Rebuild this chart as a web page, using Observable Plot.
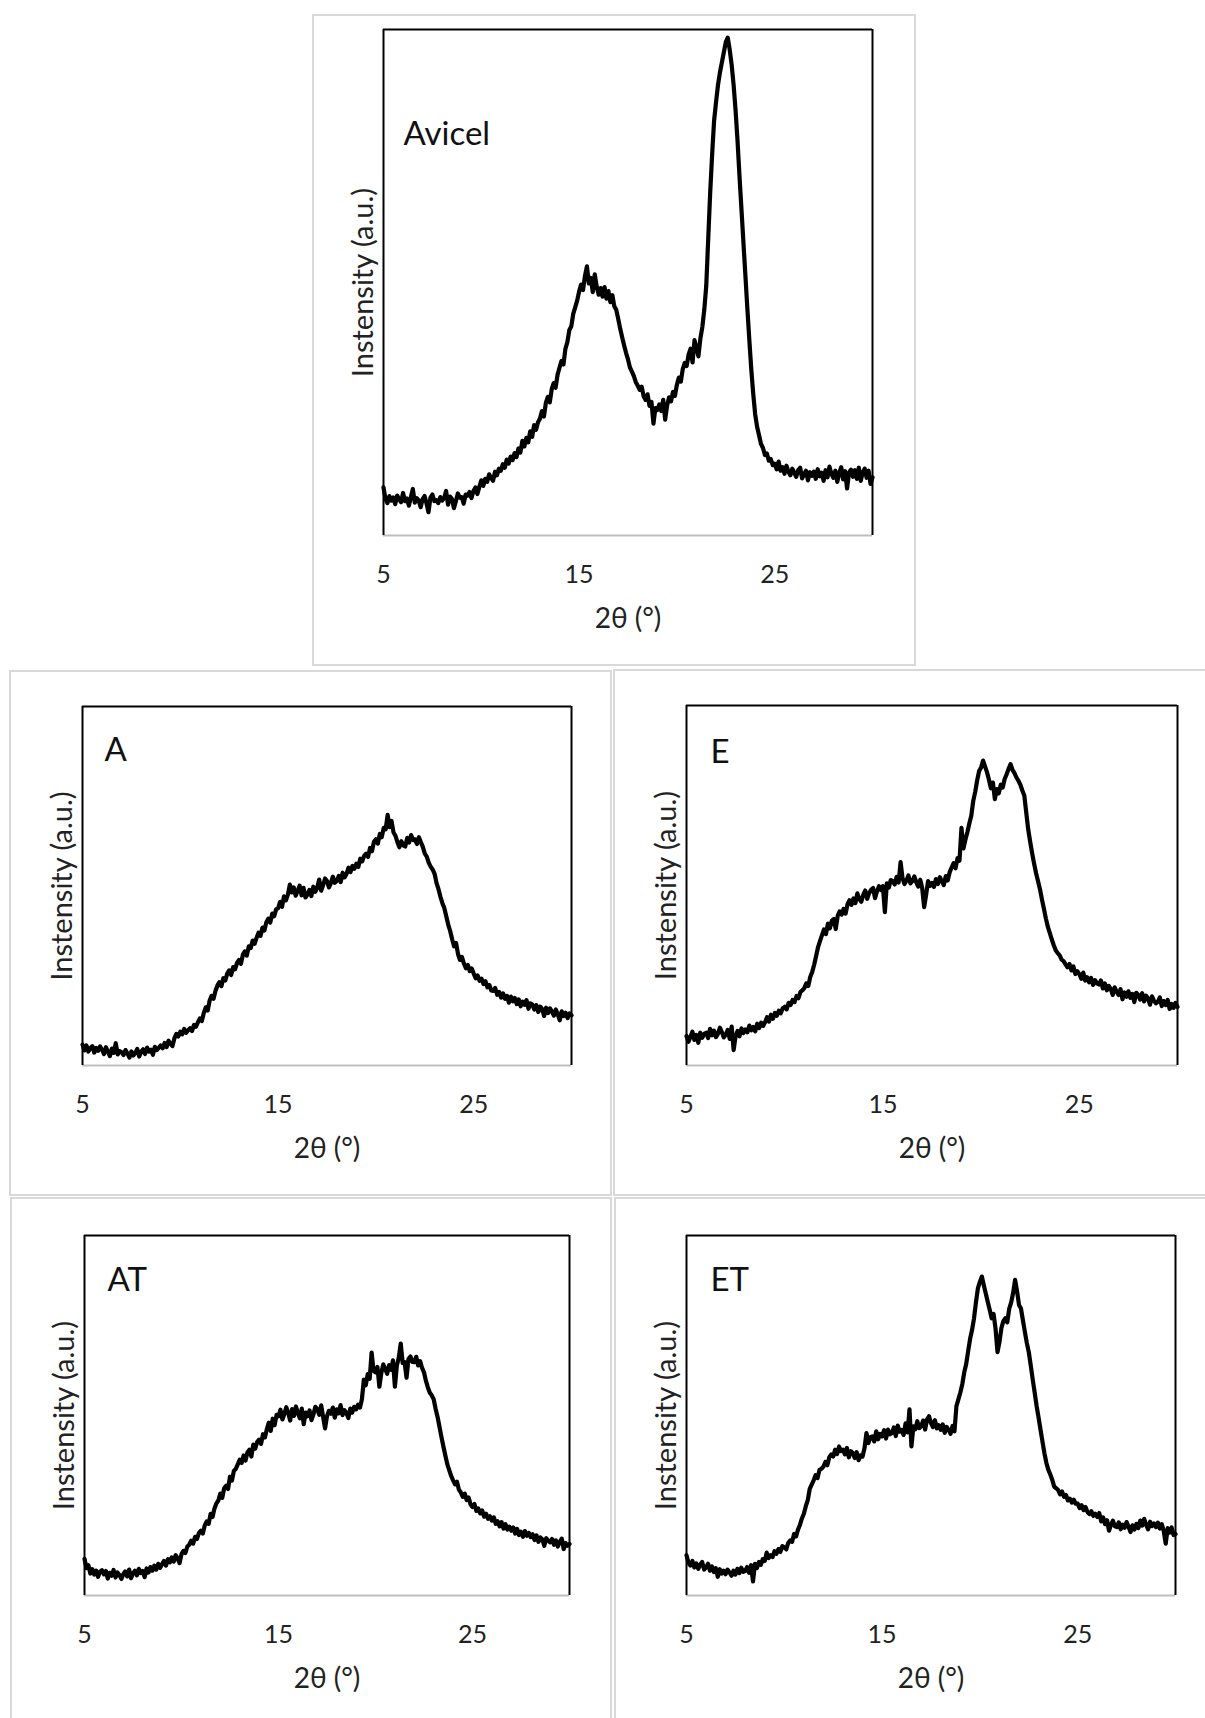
<!DOCTYPE html>
<html>
<head>
<meta charset="utf-8">
<script src="https://cdn.jsdelivr.net/npm/d3@7"></script>
<script src="https://cdn.jsdelivr.net/npm/@observablehq/plot@0.6"></script>
<style>
html, body { margin: 0; padding: 0; background: #fff; }
#root { position: relative; width: 1205px; height: 1718px; overflow: hidden; background: #fff; font-family: Lato, sans-serif; }
.box { position: absolute; box-sizing: border-box; border: 2px solid #d9d9d9; pointer-events: none; }
.panel { position: absolute; }
</style>
</head>
<body>
<div id="root"></div>
<script>
// ---- data (intensity as % of plot height, sampled every 0.1° of 2θ from 5° to 30°) ----
const xTicks = [5, 15, 25];
const xTitle = "2θ (°)";
const yTitle = "Instensity (a.u.)";
const panelNames = ["Avicel", "A", "E", "AT", "ET"];

const avicel = [
  9.5, 7.2, 6.4, 7.8, 6.9, 7.5, 6.2, 7.9, 7.1, 6.6,
  8.4, 6.8, 7.3, 5.9, 7.6, 9.2, 6.5, 7.4, 6.9, 5.6,
  7.2, 7.8, 6.3, 4.6, 7.5, 8.1, 6.8, 7.0, 6.4, 7.6,
  6.9, 7.4, 8.8, 6.1, 7.7, 7.2, 5.4, 6.8, 8.3, 7.5,
  7.6, 6.3, 8.1, 7.9, 8.6, 7.4, 8.8, 9.5, 8.2, 9.6,
  10.9, 9.8, 11.2, 10.6, 12.1, 11.4, 10.8, 12.6, 11.9, 13.2,
  12.8, 14.1, 13.4, 15.0, 14.2, 15.6, 14.9, 16.3, 15.5, 17.2,
  16.4, 18.7, 17.6, 19.3, 18.4, 20.6, 19.5, 21.8, 20.9, 22.4,
  23.1, 24.6, 23.5, 26.2, 27.4, 26.3, 28.9, 30.1, 29.2, 31.8,
  33.2, 34.5, 33.8, 36.9, 38.2, 40.6, 41.3, 43.8, 45.1, 46.4,
  48.2, 49.6, 48.5, 51.3, 53.2, 49.8, 50.9, 48.1, 51.6, 49.2,
  47.6, 48.9, 47.2, 49.1, 46.8, 48.3, 46.1, 47.5, 45.3, 44.6,
  42.8, 40.9, 39.2, 37.6, 36.1, 34.8, 33.2, 32.4, 31.5, 30.3,
  29.6, 28.8, 29.4, 27.5, 26.8, 27.9, 25.6, 26.4, 22.1, 25.2,
  24.8, 25.9, 24.6, 26.8, 22.9, 25.7, 27.3, 26.5, 28.4, 27.6,
  29.8, 31.2, 30.4, 32.9, 34.1, 33.5, 35.8, 36.9, 34.2, 38.6,
  37.1, 35.4, 38.9, 41.2, 44.6, 49.3, 58.5, 67.6, 75.2, 81.9,
  85.6, 89.0, 91.5, 93.5, 95.5, 97.5, 98.4, 96.0, 93.0, 89.0,
  84.0, 78.0, 71.0, 64.5, 58.0, 51.5, 45.0, 38.8, 33.0, 28.1,
  24.0, 21.5, 19.8, 18.1, 17.3, 15.9, 16.2, 14.8, 15.1, 13.9,
  14.2, 13.1, 14.6, 12.8, 13.5, 12.2, 13.8, 12.6, 11.9, 13.2,
  12.4, 11.6, 12.9, 13.4, 11.3, 12.1, 12.8, 10.9, 12.5, 11.8,
  12.6, 11.2, 13.1, 11.7, 12.4, 10.8, 12.9, 11.5, 13.6, 12.2,
  11.4, 12.8, 10.6, 12.3, 13.5, 11.1, 12.7, 9.3, 12.4, 13.0,
  11.6, 12.9, 11.2, 13.4, 10.8, 12.5, 13.2, 11.4, 12.8, 10.2,
  11.5
];

const sampleA = [
  5.8, 4.2, 5.6, 3.9, 4.8, 5.4, 3.6, 4.9, 4.1, 5.3,
  4.4, 3.2, 5.1, 3.8, 2.6, 4.7, 3.5, 6.2, 3.1, 4.0,
  3.7, 2.9, 4.3, 3.4, 2.2, 3.9, 2.8, 3.5, 4.6, 2.5,
  3.8, 4.5, 3.2, 5.0, 3.9, 4.4, 3.0, 5.2, 4.3, 4.9,
  5.6, 4.8, 6.3, 5.1, 6.9, 6.0, 5.4, 7.6, 8.8, 8.1,
  9.4, 8.7, 10.2, 9.1, 9.8, 10.4, 9.6, 11.3, 10.8, 12.0,
  13.1, 12.4, 14.6, 16.2, 15.3, 18.1, 19.4, 18.6, 20.8, 22.3,
  23.2, 22.1, 24.3, 23.7, 25.6, 26.5, 25.2, 27.4, 26.8, 28.6,
  29.4, 28.3, 30.9, 31.8, 30.6, 33.2, 32.7, 34.8, 33.9, 35.6,
  37.0, 36.1, 38.4, 37.6, 39.9, 40.9, 39.8, 42.3, 41.6, 43.5,
  43.8, 45.6, 44.2, 47.1, 46.0, 47.6, 50.4, 48.2, 49.6, 47.3,
  48.6, 50.1, 47.4, 49.5, 46.8, 47.6, 48.9, 47.2, 49.8, 48.4,
  49.5, 51.8, 48.7, 50.2, 52.1, 51.4, 49.6, 50.8, 52.6, 50.9,
  51.4, 52.8, 51.1, 53.7, 52.4, 53.4, 55.1, 53.9, 55.6, 54.8,
  56.2, 55.3, 57.6, 56.9, 58.4, 59.0, 58.1, 60.6, 59.7, 62.3,
  63.0, 61.8, 64.5, 63.6, 66.2, 65.8, 69.8, 66.4, 68.1, 64.9,
  64.0, 62.2, 60.8, 62.5, 61.3, 61.0, 63.4, 62.1, 64.2, 62.8,
  63.0, 61.7, 63.6, 62.2, 60.9, 59.0, 58.2, 56.5, 55.4, 54.6,
  53.4, 50.8, 49.1, 47.0, 45.2, 43.8, 41.5, 39.2, 37.4, 35.1,
  33.2, 34.1, 31.0, 29.4, 30.2, 28.4, 27.1, 28.0, 26.3, 27.0,
  25.6, 24.3, 25.1, 23.6, 24.2, 22.7, 23.5, 21.8, 22.4, 20.9,
  20.8, 21.6, 19.7, 20.5, 18.9, 20.1, 18.6, 19.4, 17.5, 19.2,
  17.9, 18.8, 17.1, 18.4, 16.5, 17.8, 16.9, 18.2, 15.8, 17.3,
  17.0, 15.6, 16.8, 14.9, 16.4, 15.7, 13.8, 16.1, 14.6, 15.9,
  15.0, 13.9, 15.6, 14.2, 12.6, 15.1, 13.8, 14.7, 13.2, 14.5,
  14.0
];

const sampleE = [
  8.2, 6.6, 7.9, 9.4, 7.1, 8.5, 6.3, 9.1, 7.7, 8.8,
  9.1, 7.6, 10.2, 8.4, 9.7, 7.9, 8.8, 10.5, 9.3, 7.8,
  8.6, 9.9, 7.4, 10.8, 4.3, 8.2, 9.6, 8.1, 10.3, 9.0,
  10.0, 9.2, 11.1, 9.8, 10.7, 9.5, 11.6, 10.4, 11.9, 11.0,
  12.0, 13.4, 12.2, 14.1, 13.0, 14.6, 13.8, 15.2, 14.5, 15.9,
  16.3, 15.6, 17.4, 16.8, 18.2, 17.6, 19.3, 18.7, 20.4, 20.9,
  21.5, 22.8, 22.1, 24.6, 26.0, 28.0, 30.4, 32.9, 34.6, 36.2,
  37.8, 36.5, 39.4, 38.1, 40.2, 40.7, 37.9, 41.6, 42.8, 41.9,
  43.5, 42.2, 44.8, 45.9, 44.6, 46.4, 45.1, 47.8, 46.2, 45.5,
  47.4, 48.6, 46.3, 47.9, 48.8, 49.3, 46.5, 48.4, 49.8, 48.7,
  49.8, 42.6, 50.6, 49.4, 51.5, 51.2, 50.3, 52.4, 50.8, 56.5,
  52.0, 50.4, 51.4, 52.8, 50.6, 51.2, 52.5, 50.9, 49.7, 51.6,
  49.3, 44.0, 47.4, 51.2, 49.9, 50.7, 49.6, 51.8, 50.4, 52.3,
  51.2, 50.1, 52.6, 51.4, 53.7, 55.0, 56.2, 54.8, 57.6, 56.9,
  66.0, 60.3, 62.7, 64.8, 67.2, 69.4, 73.5, 76.0, 79.2, 81.8,
  82.8, 84.7, 83.1, 81.5, 79.4, 77.0, 78.6, 74.0, 76.8, 75.6,
  78.0, 77.2, 79.6, 80.9, 82.4, 83.7, 82.1, 81.2, 80.0, 79.1,
  78.0, 76.4, 75.0, 70.2, 65.5, 62.1, 58.9, 56.0, 53.4, 51.2,
  48.9, 46.1, 43.5, 40.8, 38.5, 36.8, 35.0, 33.4, 32.0, 31.2,
  30.6, 29.4, 29.0, 28.1, 27.3, 28.2, 26.4, 27.5, 25.4, 26.2,
  25.4, 24.1, 25.8, 23.6, 24.5, 23.1, 24.3, 22.4, 23.7, 22.8,
  22.5, 23.6, 21.4, 22.8, 20.9, 22.1, 21.3, 19.6, 21.7, 20.5,
  19.6, 21.2, 18.4, 20.3, 19.1, 20.6, 18.8, 19.9, 17.6, 20.2,
  19.6, 18.3, 20.1, 17.8, 19.4, 18.6, 16.9, 19.2, 18.0, 17.3,
  17.7, 18.9, 16.5, 17.9, 16.8, 18.2, 15.7, 17.1, 16.0, 17.4,
  16.3
];

const sampleAT = [
  10.2, 7.6, 8.4, 6.1, 7.3, 5.8, 6.9, 5.2, 6.6, 7.0,
  5.9, 6.8, 4.7, 6.3, 5.5, 7.1, 5.0, 6.4, 5.7, 4.6,
  5.9, 6.7, 5.3, 7.2, 4.8, 6.1, 6.9, 5.6, 7.4, 6.2,
  6.8, 5.1, 7.5, 6.4, 7.9, 6.9, 8.3, 7.2, 8.8, 7.7,
  8.7, 9.6, 8.3, 10.1, 9.2, 10.6, 9.4, 11.2, 10.3, 9.0,
  11.5, 12.4, 11.8, 13.6, 14.1, 15.2, 14.4, 16.3, 15.7, 17.4,
  18.0, 17.2, 19.5, 20.6, 19.9, 22.7, 21.8, 24.2, 25.6, 26.4,
  28.3, 27.1, 29.8, 30.5, 29.6, 33.0, 31.9, 34.6, 35.2, 36.4,
  37.7, 36.8, 38.9, 37.5, 39.8, 40.5, 38.6, 41.9, 40.8, 42.6,
  43.3, 42.1, 44.8, 43.9, 46.2, 48.0, 45.7, 49.1, 47.3, 50.2,
  49.8, 51.6, 48.9, 50.4, 52.3, 50.7, 48.6, 51.8, 49.9, 52.5,
  50.7, 49.2, 51.9, 47.6, 50.8, 49.8, 51.4, 48.7, 50.3, 52.4,
  51.7, 50.2, 52.8, 49.6, 46.4, 49.8, 51.3, 50.5, 52.2, 49.4,
  51.7, 50.6, 52.9, 50.1, 51.5, 50.7, 49.3, 51.9, 50.8, 52.4,
  51.7, 53.0, 52.2, 54.5, 60.0, 58.4, 61.5, 60.2, 67.5, 62.4,
  62.0, 63.5, 58.0, 61.8, 64.2, 62.9, 61.6, 64.0, 62.7, 65.3,
  58.0, 63.8, 66.1, 70.0, 64.6, 64.8, 60.5, 65.7, 66.4, 64.9,
  64.8, 66.3, 63.9, 65.1, 63.2, 62.0, 59.6, 57.8, 56.3, 55.6,
  54.5, 51.8, 49.6, 46.8, 44.0, 41.4, 38.9, 36.5, 34.8, 33.2,
  32.0, 30.9, 31.6, 29.4, 28.6, 27.4, 28.3, 26.5, 27.2, 25.3,
  24.6, 25.4, 23.5, 24.2, 22.8, 23.6, 21.9, 22.7, 21.3, 22.0,
  20.8, 21.7, 19.9, 20.6, 19.2, 20.4, 18.6, 19.8, 18.3, 19.1,
  18.0, 18.9, 17.2, 18.5, 16.8, 17.7, 16.3, 17.9, 16.6, 17.4,
  16.2, 17.0, 15.4, 16.7, 14.9, 16.1, 15.6, 13.8, 15.9, 15.2,
  14.8, 15.7, 14.1, 15.3, 13.6, 14.9, 15.8, 12.9, 14.6, 13.8,
  14.3
];

const sampleET = [
  11.2, 9.1, 8.3, 9.6, 7.8, 8.9, 7.4, 8.6, 9.3, 7.2,
  7.8, 8.8, 6.9, 8.1, 6.5, 7.6, 5.2, 7.3, 6.1, 6.9,
  5.9, 7.2, 6.4, 5.5, 6.9, 5.8, 7.4, 6.2, 7.7, 6.6,
  6.8, 7.9, 6.3, 8.4, 3.9, 8.8, 7.6, 9.3, 8.5, 10.1,
  9.6, 11.9, 10.4, 11.2, 10.7, 12.3, 11.6, 12.9, 12.1, 13.7,
  13.4, 12.8, 14.6, 15.3, 14.9, 17.1, 16.4, 18.3, 19.6, 21.4,
  22.7, 24.8, 26.5, 29.6, 30.8, 32.0, 33.4, 32.6, 34.9, 35.2,
  35.8, 37.1, 36.2, 38.4, 39.2, 38.6, 40.5, 39.3, 41.4, 40.1,
  40.5, 39.2, 41.0, 38.4, 40.1, 39.6, 38.2, 39.8, 37.6, 38.9,
  38.6, 40.9, 45.1, 42.3, 44.0, 44.2, 42.8, 45.6, 43.4, 44.9,
  44.2, 45.9, 43.6, 46.1, 44.8, 45.1, 46.7, 44.3, 47.2, 45.5,
  46.0, 44.6, 47.8, 45.3, 51.7, 41.4, 47.0, 46.2, 48.4, 46.5,
  47.0, 48.6, 46.1, 48.9, 49.8, 47.9, 46.8, 48.7, 46.4, 47.3,
  46.0, 47.5, 45.2, 46.8, 46.0, 44.9, 47.1, 45.6, 52.6, 54.5,
  56.4, 58.7, 62.0, 64.3, 67.9, 71.3, 73.8, 77.0, 81.5, 85.4,
  87.1, 88.6, 86.2, 83.9, 81.6, 79.4, 77.0, 78.2, 74.1, 67.6,
  70.4, 74.3, 76.2, 77.0, 75.9, 79.7, 81.4, 84.1, 87.7, 84.5,
  80.7, 79.7, 76.4, 73.2, 70.1, 67.6, 63.9, 60.0, 56.4, 52.6,
  49.4, 46.0, 42.7, 39.5, 36.8, 34.9, 33.6, 32.1, 30.2, 29.8,
  29.3, 28.1, 28.9, 27.4, 27.9, 26.4, 26.9, 25.8, 26.6, 25.5,
  25.5, 24.3, 25.1, 23.7, 24.6, 23.2, 22.6, 23.4, 22.1, 22.7,
  21.8, 22.9, 20.6, 21.7, 19.8, 20.9, 18.0, 19.6, 20.8, 19.2,
  19.0, 20.3, 18.4, 19.7, 18.8, 20.4, 19.1, 17.6, 19.5, 18.3,
  19.9, 18.7, 20.8, 19.4, 21.3, 19.6, 18.4, 20.5, 19.3, 20.0,
  19.0, 20.2, 18.6, 19.8, 17.9, 14.4, 18.7, 17.5, 18.9, 16.8,
  17.1
];

const seriesList = [avicel, sampleA, sampleE, sampleAT, sampleET];
// sampling grid of the diffractograms: 5.0°, 5.1°, ... 30.0°
const twoTheta = d3.range(251).map(i => Math.round((5 + i * 0.1) * 10) / 10);

// ---- layout (pixel geometry of each panel) ----
const layout = [
  { box: [312, 14, 916, 666],   frame: [383, 29, 872, 535],   ldx: 20, ldy: 92 },
  { box: [9, 670, 612, 1196],   frame: [82, 706, 571, 1065],  ldx: 22, ldy: 31 },
  { box: [613, 669, 1207, 1196], frame: [686, 705, 1177, 1065], ldx: 24, ldy: 34 },
  { box: [10, 1197, 612, 1720], frame: [84, 1235, 569, 1595], ldx: 23, ldy: 32 },
  { box: [614, 1197, 1207, 1720], frame: [686, 1235, 1175, 1595], ldx: 24, ldy: 32 }
];

const root = document.getElementById("root");
const font = "Lato, 'Open Sans', sans-serif";

layout.forEach((L, k) => {
  const [bx0, by0, bx1, by1] = L.box;
  const [fx0, fy0, fx1, fy1] = L.frame;
  const W = bx1 - bx0, H = by1 - by0;
  const rows = seriesList[k].map((v, i) => ({ angle: twoTheta[i], intensity: v }));

  const chart = Plot.plot({
    width: W,
    height: H,
    marginLeft: fx0 - bx0,
    marginRight: bx1 - fx1,
    marginTop: fy0 - by0,
    marginBottom: by1 - fy1,
    x: { domain: [5, 30] },
    y: { domain: [0, 100], axis: null },
    style: { background: "transparent", fontFamily: font, fontSize: "25px", color: "#222", overflow: "visible" },
    marks: [
      Plot.ruleY([0], { stroke: "#bfbfbf", strokeWidth: 2 }),
      Plot.ruleX([5, 30], { stroke: "#000", strokeWidth: 2 }),
      Plot.ruleY([100], { stroke: "#000", strokeWidth: 2 }),
      Plot.line(rows, { x: "angle", y: "intensity", stroke: "#000", strokeWidth: 4.2, strokeLinejoin: "round" }),
      Plot.axisX({ ticks: xTicks, tickSize: 0, tickPadding: 30, fontSize: 25, label: null, fill: "#222" }),
      Plot.text([xTitle], { text: d => d, frameAnchor: "bottom", textAnchor: "middle", lineAnchor: "middle", dy: 84, fontSize: 28, fill: "#222" }),
      Plot.text([yTitle], { text: d => d, frameAnchor: "left", textAnchor: "middle", lineAnchor: "middle", rotate: -90, dx: -20, fontSize: 29, fill: "#222" }),
      Plot.text([panelNames[k]], { text: d => d, frameAnchor: "top-left", textAnchor: "start", lineAnchor: "top", dx: L.ldx, dy: L.ldy, fontSize: 33, fill: "#111" })
    ]
  });
  chart.classList.add("panel");
  chart.style.left = bx0 + "px";
  chart.style.top = by0 + "px";
  chart.style.maxWidth = "none";
  root.appendChild(chart);

  const b = document.createElement("div");
  b.className = "box";
  b.style.left = bx0 + "px";
  b.style.top = by0 + "px";
  b.style.width = W + "px";
  b.style.height = H + "px";
  root.appendChild(b);
});
</script>
</body>
</html>
